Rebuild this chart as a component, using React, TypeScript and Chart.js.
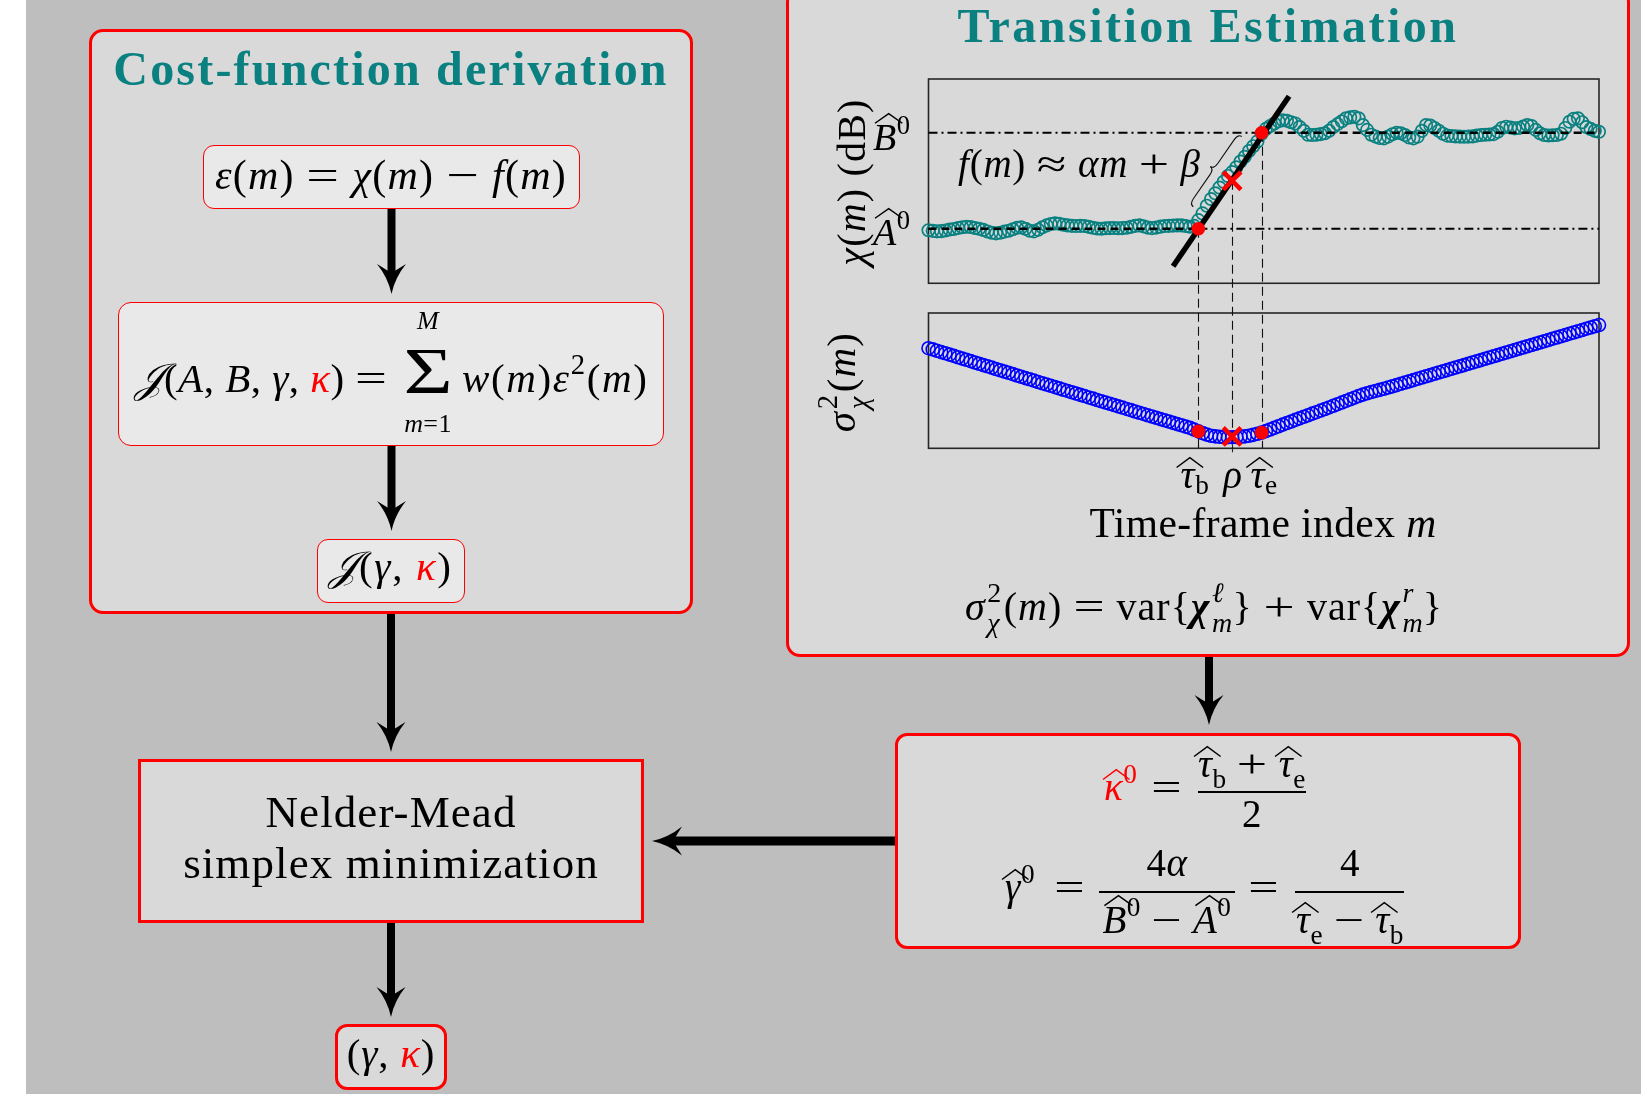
import React, { useEffect, useRef } from 'react';
import { Chart, registerables } from 'chart.js';
Chart.register(...registerables);

// ---------------- data ----------------
// chi(m) in dB, time-frame index m = 1..160
const chiDb = [
  -0.15, -0.22, -0.27, -0.25, -0.18, -0.08, -0.02, 0.08, 0.16, 0.21,
  0.18, 0.08, 0.0, -0.12, -0.28, -0.42, -0.48, -0.42, -0.3, -0.2,
  -0.05, 0.1, 0.14, 0.0, -0.2, -0.27, -0.1, 0.15, 0.35, 0.5,
  0.56, 0.52, 0.42, 0.35, 0.3, 0.28, 0.3, 0.28, 0.2, 0.1,
  0.02, 0.0, 0.05, 0.07, 0.08, 0.06, 0.07, 0.1, 0.2, 0.3,
  0.35, 0.25, 0.12, 0.07, 0.12, 0.22, 0.28, 0.3, 0.33, 0.35,
  0.35, 0.28, 0.21, 0.3, 0.9,
  1.6, 2.4, 3.1, 3.7, 4.3, 4.9, 5.5, 5.9, 6.4, 7.0, 7.5, 8.1, 8.6, 9.1,
  9.9,
  10.4, 10.7, 10.97, 11.2, 11.3, 11.25, 11.1, 10.97, 10.6, 10.2,
  9.8, 9.76, 9.8, 9.86, 9.95, 10.2, 10.6, 10.9, 11.2, 11.5,
  11.6, 11.67, 11.5, 10.8, 10.3, 9.8, 9.6, 9.45, 9.42, 9.6,
  9.85, 10.0, 9.95, 9.76, 9.5, 9.42, 9.6, 10.2, 10.8, 10.75,
  10.5, 10.2, 9.9, 9.7, 9.66, 9.62, 9.6, 9.58, 9.6, 9.62,
  9.7, 9.76, 9.8, 9.82, 9.86, 10.1, 10.5, 10.63, 10.55, 10.46,
  10.5, 10.65, 10.8, 10.7, 10.3, 9.95, 9.76, 9.72, 9.74, 9.76,
  9.9, 10.5, 11.15, 11.45, 11.5, 11.1, 10.6, 10.4, 10.2, 10.1,
];
// sigma^2_chi(m) (normalised), m = 1..160
const sigmaVar = [
  0.740, 0.731, 0.721, 0.711, 0.702, 0.692, 0.683, 0.673, 0.663, 0.654,
  0.644, 0.634, 0.625, 0.615, 0.606, 0.596, 0.586, 0.577, 0.567, 0.558,
  0.548, 0.538, 0.529, 0.519, 0.510, 0.500, 0.490, 0.481, 0.471, 0.462,
  0.452, 0.443, 0.433, 0.424, 0.414, 0.405, 0.395, 0.386, 0.376, 0.367,
  0.357, 0.348, 0.338, 0.329, 0.320, 0.310, 0.301, 0.291, 0.282, 0.272,
  0.263, 0.254, 0.244, 0.235, 0.226, 0.216, 0.207, 0.198, 0.188, 0.179,
  0.170, 0.160, 0.151, 0.138, 0.125, 0.112, 0.101, 0.093, 0.088, 0.085,
  0.083, 0.082, 0.082, 0.083, 0.085, 0.088, 0.093, 0.099, 0.107, 0.116,
  0.127, 0.139, 0.151, 0.163, 0.175, 0.187, 0.198, 0.210, 0.221, 0.233,
  0.244, 0.256, 0.267, 0.279, 0.290, 0.302, 0.314, 0.326, 0.338, 0.350,
  0.362, 0.374, 0.386, 0.397, 0.407, 0.416, 0.424, 0.432, 0.440, 0.449,
  0.458, 0.467, 0.477, 0.486, 0.495, 0.504, 0.514, 0.523, 0.532, 0.541,
  0.551, 0.560, 0.569, 0.578, 0.588, 0.597, 0.606, 0.615, 0.625, 0.634,
  0.643, 0.652, 0.662, 0.671, 0.680, 0.689, 0.699, 0.708, 0.717, 0.726,
  0.736, 0.745, 0.754, 0.763, 0.773, 0.782, 0.791, 0.800, 0.810, 0.819,
  0.828, 0.837, 0.847, 0.856, 0.865, 0.874, 0.884, 0.893, 0.902, 0.911,
];
const tauB = 65;
const tauE = 80;
const rhoM = 73;
const levelA0 = 0;
const levelB0 = 10;
const chiAtRho = 5.0;
const sigmaAtRho = 0.088;
const fitM = [59, 86.5];
const fitDb = [-3.9, 13.8];
const braceM = [63.8, 75.3];
const braceDb = [2.3, 9.6];
const xRange = [1, 160];
const chiAxis = [-22.87, 15.6];
const sigmaAxis = [0, 2.7295];
const chiFrame = [-5.68, 15.6];
const sigmaFrame = [0, 1];

// ---------------- styles ----------------
const SERIF = "'Liberation Serif','DejaVu Serif',serif";
const TEAL = '#0a8080';
const RED = '#ff0000';

const guidesPlugin = {
  id: 'guides',
  beforeDatasetsDraw(chart: any) {
    const { ctx, scales } = chart;
    const { x, y, y2 } = scales;
    ctx.save();
    ctx.strokeStyle = '#262626';
    ctx.lineWidth = 1.6;
    const l = x.getPixelForValue(xRange[0]);
    const r = x.getPixelForValue(xRange[1]);
    const t1 = y.getPixelForValue(chiFrame[1]);
    const b1 = y.getPixelForValue(chiFrame[0]);
    ctx.strokeRect(l, t1, r - l, b1 - t1);
    const t2 = y2.getPixelForValue(sigmaFrame[1]);
    const b2 = y2.getPixelForValue(sigmaFrame[0]);
    ctx.strokeRect(l, t2, r - l, b2 - t2);
    ctx.lineWidth = 1.1;
    [tauB, rhoM, tauE].forEach((m) => {
      const px = Math.round(x.getPixelForValue(m)) + 0.5;
      ctx.beginPath();
      ctx.moveTo(px, b2 - 4);
      ctx.lineTo(px, b2 + (m === rhoM ? 4 : 0));
      ctx.stroke();
    });
    ctx.restore();
  },
  afterDatasetDraw(chart: any, args: any) {
    const ds = chart.data.datasets[args.index];
    if (ds.label !== 'fit') return;
    const { ctx, scales } = chart;
    const { x, y, y2 } = scales;
    const bottom = y2.getPixelForValue(sigmaFrame[0]);
    ctx.save();
    ctx.strokeStyle = '#111';
    ctx.lineWidth = 1.1;
    ctx.setLineDash([9, 5]);
    const vlines = [
      [tauB, levelA0],
      [rhoM, chiAtRho],
      [tauE, levelB0],
    ];
    vlines.forEach(([m, v]) => {
      const px = Math.round(x.getPixelForValue(m)) + 0.5;
      ctx.beginPath();
      ctx.moveTo(px, y.getPixelForValue(v));
      ctx.lineTo(px, bottom);
      ctx.stroke();
    });
    ctx.restore();
  },
  afterDatasetsDraw(chart: any) {
    const { ctx, scales } = chart;
    const { x, y } = scales;
    const p1 = { x: x.getPixelForValue(braceM[0]), y: y.getPixelForValue(braceDb[0]) };
    const p2 = { x: x.getPixelForValue(braceM[1]), y: y.getPixelForValue(braceDb[1]) };
    const L = Math.hypot(p2.x - p1.x, p2.y - p1.y);
    const ang = Math.atan2(p2.y - p1.y, p2.x - p1.x);
    const w = -9;
    ctx.save();
    ctx.translate(p1.x, p1.y);
    ctx.rotate(ang);
    ctx.strokeStyle = '#111';
    ctx.lineWidth = 1.1;
    ctx.beginPath();
    ctx.moveTo(0, 0);
    ctx.quadraticCurveTo(0, w * 0.5, L * 0.08, w * 0.5);
    ctx.lineTo(L * 0.42, w * 0.5);
    ctx.quadraticCurveTo(L * 0.5, w * 0.5, L * 0.5, w);
    ctx.quadraticCurveTo(L * 0.5, w * 0.5, L * 0.58, w * 0.5);
    ctx.lineTo(L * 0.92, w * 0.5);
    ctx.quadraticCurveTo(L, w * 0.5, L, 0);
    ctx.stroke();
    ctx.restore();
  },
};

function PlotCanvas() {
  const ref = useRef<HTMLCanvasElement>(null);
  useEffect(() => {
    const chiPts = chiDb.map((v, i) => ({ x: i + 1, y: v }));
    const sigPts = sigmaVar.map((v, i) => ({ x: i + 1, y: v }));
    const base = { pointRadius: 0, tension: 0, clip: false as any, fill: false };
    const chart = new Chart(ref.current as HTMLCanvasElement, {
      type: 'line',
      data: {
        datasets: [
          { label: 'chi', data: chiPts, yAxisID: 'y', showLine: false, pointRadius: 6.2, pointBorderWidth: 1.7,
            pointBorderColor: TEAL, pointBackgroundColor: 'rgba(0,0,0,0)', order: 6, clip: false as any },
          { label: 'sigma', data: sigPts, yAxisID: 'y2', showLine: false, pointRadius: 6.5, pointBorderWidth: 1.6,
            pointBorderColor: '#0000ff', pointBackgroundColor: 'rgba(0,0,0,0)', order: 5, clip: false as any },
          { ...base, label: 'A0 mean', data: [{ x: xRange[0], y: levelA0 }, { x: tauB, y: levelA0 }], yAxisID: 'y',
            borderColor: '#000', borderWidth: 2.4, borderDash: [8, 5], order: 4 },
          { ...base, label: 'A0 level', data: [{ x: tauB, y: levelA0 }, { x: xRange[1], y: levelA0 }], yAxisID: 'y',
            borderColor: '#000', borderWidth: 2.2, borderDash: [9, 4, 2, 4], order: 4 },
          { ...base, label: 'B0 level', data: [{ x: xRange[0], y: levelB0 }, { x: tauE, y: levelB0 }], yAxisID: 'y',
            borderColor: '#000', borderWidth: 2.2, borderDash: [9, 4, 2, 4], order: 4 },
          { ...base, label: 'B0 mean', data: [{ x: tauE, y: levelB0 }, { x: xRange[1], y: levelB0 }], yAxisID: 'y',
            borderColor: '#000', borderWidth: 2.4, borderDash: [8, 5], order: 4 },
          { ...base, label: 'fit', data: fitM.map((m, i) => ({ x: m, y: fitDb[i] })), yAxisID: 'y',
            borderColor: '#000', borderWidth: 5.5, borderCapStyle: 'butt', order: 3 },
          { label: 'ends chi', data: [{ x: tauB, y: levelA0 }, { x: tauE, y: levelB0 }], yAxisID: 'y', showLine: false,
            pointRadius: 6.8, pointBorderWidth: 0, pointBackgroundColor: RED, pointBorderColor: RED, order: 1, clip: false as any },
          { label: 'ends sigma', data: [{ x: tauB, y: sigmaVar[tauB - 1] }, { x: tauE, y: sigmaVar[tauE - 1] }], yAxisID: 'y2',
            showLine: false, pointRadius: 6.8, pointBorderWidth: 0, pointBackgroundColor: RED, pointBorderColor: RED, order: 1, clip: false as any },
          { label: 'rho', data: [{ x: rhoM, y: chiAtRho }], yAxisID: 'y', showLine: false, pointStyle: 'crossRot',
            pointRadius: 12.5, pointBorderWidth: 4.5, pointBorderColor: RED, order: 0, clip: false as any },
          { label: 'rho sigma', data: [{ x: rhoM, y: sigmaAtRho }], yAxisID: 'y2', showLine: false, pointStyle: 'crossRot',
            pointRadius: 12.5, pointBorderWidth: 4.5, pointBorderColor: RED, order: 0, clip: false as any },
        ] as any,
      },
      options: {
        responsive: false,
        animation: false,
        events: [],
        layout: { padding: { left: 48.5, top: 19, right: 21, bottom: 21.7 }, autoPadding: false } as any,
        plugins: { legend: { display: false }, tooltip: { enabled: false } },
        scales: {
          x: { type: 'linear', min: xRange[0], max: xRange[1], display: false },
          y: { type: 'linear', min: chiAxis[0], max: chiAxis[1], display: false },
          y2: { type: 'linear', min: sigmaAxis[0], max: sigmaAxis[1], display: false },
        },
      },
      plugins: [guidesPlugin as any],
    });
    return () => chart.destroy();
  }, []);
  return (
    <canvas ref={ref} width={740} height={410}
      style={{ position: 'absolute', left: 880, top: 60, width: 740, height: 410 }} />
  );
}

// ---------------- text helpers ----------------
// y is the baseline; lh is the line-height factor
function Label({ x, y, size, anchor = 'middle', children, color = '#000', weight = 400, ls = '0.015em', lh = 1, style = {} }: any) {
  const tx = anchor === 'middle' ? 'translateX(-50%)' : anchor === 'end' ? 'translateX(-100%)' : '';
  const L = lh * size;
  return (
    <div style={{ position: 'absolute', left: x, top: y - L / 2 - 0.3375 * size, fontSize: size, lineHeight: `${L}px`,
      whiteSpace: 'nowrap', color, fontWeight: weight, transform: tx, fontFamily: SERIF, letterSpacing: ls, ...style }}>
      {children}
    </div>
  );
}
function RotLabel({ cx, cy, size, children, ls = '0.03em' }: any) {
  return (
    <div style={{ position: 'absolute', left: cx, top: cy, fontSize: size, lineHeight: `${size}px`, whiteSpace: 'nowrap',
      transform: 'translate(-50%,-50%) rotate(-90deg)', fontFamily: SERIF, letterSpacing: ls }}>
      {children}
    </div>
  );
}
const Sup = ({ children }: any) => <span style={{ fontSize: '0.7em', position: 'relative', top: '-0.62em' }}>{children}</span>;
const Sub = ({ children, d = 0.38 }: any) => <span style={{ fontSize: '0.7em', position: 'relative', top: `${d}em` }}>{children}</span>;
// widehat drawn as a thin chevron above its argument
const Hat = ({ children, top = 0.8, w = 0.68, h = 0.27, dx = 0.06 }: any) => (
  <span style={{ position: 'relative', display: 'inline-block' }}>
    {children}
    <svg viewBox="0 0 20 6" preserveAspectRatio="none"
      style={{ position: 'absolute', left: `calc(50% - ${w / 2 - dx}em)`, top: `${0.8375 - top}em`, width: `${w}em`,
        height: `${h}em`, overflow: 'visible' }}>
      <path d="M0 6 L10 0.4 L20 6" fill="none" stroke="currentColor" strokeWidth={1.5} vectorEffect="non-scaling-stroke" />
    </svg>
  </span>
);
// wide relation / operator symbol (Computer-Modern-like width)
const Op = ({ children, sx = 1.38 }: any) => (
  <span style={{ display: 'inline-block', transform: `scaleX(${sx})`, margin: '0 0.11em', fontStyle: 'normal' }}>{children}</span>
);
const SS = ({ sup, sub, w = '0.5em' }: any) => (
  <span style={{ display: 'inline-block', position: 'relative', width: w, height: '0.1em' }}>
    <span style={{ position: 'absolute', left: '0.04em', top: '-1.16em' }}><span style={{ fontSize: '0.7em' }}>{sup}</span></span>
    <span style={{ position: 'absolute', left: '0.04em', top: '-0.42em' }}><span style={{ fontSize: '0.7em' }}>{sub}</span></span>
  </span>
);
const K = () => <i style={{ color: RED }}>κ</i>;

function Box({ l, t, w, h, bw = 3, r = 12, bg = '#d9d9d9' }: any) {
  return <div style={{ position: 'absolute', left: l, top: t, width: w, height: h, boxSizing: 'border-box',
    border: `${bw}px solid ${RED}`, borderRadius: r, background: bg }} />;
}

function Arrow({ x1, y1, x2, y2, sw = 8, hl = 30, hw = 29, notch = 9 }: any) {
  const L = Math.hypot(x2 - x1, y2 - y1);
  const a = (Math.atan2(y2 - y1, x2 - x1) * 180) / Math.PI;
  return (
    <g transform={`translate(${x1},${y1}) rotate(${a})`}>
      <line x1={0} y1={0} x2={L - hl + notch + 2} y2={0} stroke="#000" strokeWidth={sw} />
      <path d={`M ${L} 0 Q ${L - hl * 0.55} ${-hw * 0.12} ${L - hl} ${-hw / 2} L ${L - hl + notch} 0 L ${L - hl} ${hw / 2} Q ${L - hl * 0.55} ${hw * 0.12} ${L} 0 Z`} fill="#000" />
    </g>
  );
}

export default function App() {
  return (
    <div style={{ position: 'absolute', left: 0, top: 0, width: 1641, height: 1094, background: '#fff', overflow: 'hidden', fontFamily: SERIF }}>
      <div style={{ position: 'absolute', left: 26, top: 0, width: 1615, height: 1094, background: '#bebebe' }} />
      {/* main panels */}
      <Box l={89} t={29} w={604} h={585} bw={3} r={14} />
      <Box l={786} t={-12} w={844} h={669} bw={3} r={14} />
      {/* inner boxes */}
      <Box l={203} t={145} w={377} h={64} bw={1.5} r={11} bg="#e9e9e9" />
      <Box l={118} t={302} w={546} h={144} bw={1.5} r={13} bg="#e9e9e9" />
      <Box l={317} t={539} w={148} h={64} bw={1.5} r={11} bg="#e9e9e9" />
      <Box l={138} t={759} w={506} h={164} bw={3} r={0} />
      <Box l={335} t={1024} w={112} h={66} bw={3} r={12} />
      <Box l={895} t={733} w={626} h={216} bw={3} r={12} />

      <PlotCanvas />

      <svg width={1641} height={1094} style={{ position: 'absolute', left: 0, top: 0, pointerEvents: 'none' }}>
        <Arrow x1={391.5} y1={209} x2={391.5} y2={294} />
        <Arrow x1={391.5} y1={446} x2={391.5} y2={531} />
        <Arrow x1={391} y1={614} x2={391} y2={752} />
        <Arrow x1={391} y1={923} x2={391} y2={1017} />
        <Arrow x1={1209} y1={657} x2={1209} y2={725} />
        <Arrow x1={895} y1={841} x2={652} y2={841} sw={9} />
      </svg>

      {/* titles */}
      <Label x={391} y={85} size={48} weight={700} color={TEAL} ls="2.2px">Cost-function derivation</Label>
      <Label x={1208} y={42} size={48} weight={700} color={TEAL} ls="2.5px">Transition Estimation</Label>

      {/* left column formulas */}
      <Label x={391} y={189} size={42} ls="0.03em">
        <i>ε</i>(<i>m</i>){' '}<Op>=</Op>{' '}<i>χ</i>(<i>m</i>){' '}<Op>−</Op>{' '}<i>f</i>(<i>m</i>)
      </Label>
      <Label x={388} y={392} size={41} anchor="end" ls="0.012em" lh={0.9}>
        <i>𝒥</i>(<i>A</i>, <i>B</i>, <i>γ</i>, <K />){' '}<Op>=</Op>
      </Label>
      <Label x={428} y={394} size={65} ls="0" lh={0.7}>
        <span style={{ display: 'inline-block', transform: 'scaleX(1.3)' }}>Σ</span>
      </Label>
      <Label x={428} y={330} size={26} lh={0.8}><i>M</i></Label>
      <Label x={428} y={433} size={26} lh={0.8}><i>m</i>=1</Label>
      <Label x={462} y={392} size={41} anchor="start" ls="0.04em" lh={0.9}>
        <i>w</i>(<i>m</i>)<i>ε</i><Sup>2</Sup>(<i>m</i>)
      </Label>
      <Label x={391} y={580} size={41} ls="0.04em">
        <i>𝒥</i>(<i>γ</i>, <K />)
      </Label>
      <Label x={391} y={827} size={45} ls="1.1px" lh={0.9}>Nelder-Mead</Label>
      <Label x={391} y={878} size={45} ls="1.1px" lh={0.9}>simplex minimization</Label>
      <Label x={391} y={1067} size={41} ls="0.02em">
        (<i>γ</i>, <K />)
      </Label>

      {/* plot labels */}
      <RotLabel cx={852} cy={182} size={40}>
        <i>χ</i>(<i>m</i>) (dB)
      </RotLabel>
      <RotLabel cx={841} cy={382} size={41}>
        <i>σ</i><SS sup="2" sub={<i>χ</i>} w="0.45em" />(<i>m</i>)
      </RotLabel>
      <Label x={873} y={150} size={38} anchor="start">
        <Hat top={0.98} w={0.72} dx={0.1}><i>B</i></Hat><Sup>0</Sup>
      </Label>
      <Label x={873} y={245} size={38} anchor="start">
        <Hat top={0.98} w={0.72} dx={0.1}><i>A</i></Hat><Sup>0</Sup>
      </Label>
      <Label x={958} y={177} size={39} anchor="start" ls="0.02em">
        <i>f</i>(<i>m</i>){' '}<Op>≈</Op>{' '}<i>αm</i>{' '}<Op>+</Op>{' '}<i>β</i>
      </Label>
      <Label x={1195} y={488} size={39}>
        <Hat><i>τ</i></Hat><Sub d={0.2}>b</Sub>
      </Label>
      <Label x={1233} y={488} size={39}><i>ρ</i></Label>
      <Label x={1264} y={488} size={39}>
        <Hat><i>τ</i></Hat><Sub d={0.2}>e</Sub>
      </Label>
      <Label x={1263} y={538} size={41.5} ls="0.01em">
        Time-frame index <i>m</i>
      </Label>
      <Label x={1204} y={620} size={40} ls="0.025em">
        <i>σ</i><SS sup="2" sub={<i>χ</i>} w="0.45em" />(<i>m</i>){' '}<Op>=</Op>{' '}var{'{'}<b><i>χ</i></b><SS sup={<i>ℓ</i>} sub={<i>m</i>} w="0.55em" />{'}'}
        {' '}<Op>+</Op>{' '}var{'{'}<b><i>χ</i></b><SS sup={<i>r</i>} sub={<i>m</i>} w="0.55em" />{'}'}
      </Label>

      {/* estimates box */}
      <Label x={1104} y={800} size={39} anchor="start" color={RED}>
        <Hat><i>κ</i></Hat><Sup>0</Sup>
      </Label>
      <Label x={1167} y={801} size={39}><Op>=</Op></Label>
      <Label x={1252} y={777} size={39}>
        <Hat><i>τ</i></Hat><Sub>b</Sub>{' '}<Op>+</Op>{' '}<Hat><i>τ</i></Hat><Sub>e</Sub>
      </Label>
      <div style={{ position: 'absolute', left: 1198, top: 791, width: 108, height: 2, background: '#000' }} />
      <Label x={1252} y={827} size={39}>2</Label>

      <Label x={1005} y={900} size={39} anchor="start">
        <Hat><i>γ</i></Hat><Sup>0</Sup>
      </Label>
      <Label x={1070} y={901} size={39}><Op>=</Op></Label>
      <Label x={1167} y={876} size={39}>4<i>α</i></Label>
      <div style={{ position: 'absolute', left: 1099, top: 891, width: 136, height: 2, background: '#000' }} />
      <Label x={1167} y={933} size={39}>
        <Hat top={0.98} w={0.72} dx={0.1}><i>B</i></Hat><Sup>0</Sup>{' '}<Op>−</Op>{' '}<Hat top={0.98} w={0.72} dx={0.1}><i>A</i></Hat><Sup>0</Sup>
      </Label>
      <Label x={1264} y={901} size={39}><Op>=</Op></Label>
      <Label x={1350} y={876} size={39}>4</Label>
      <div style={{ position: 'absolute', left: 1295, top: 891, width: 109, height: 2, background: '#000' }} />
      <Label x={1350} y={933} size={39}>
        <Hat><i>τ</i></Hat><Sub>e</Sub>{' '}<Op>−</Op>{' '}<Hat><i>τ</i></Hat><Sub>b</Sub>
      </Label>
    </div>
  );
}
